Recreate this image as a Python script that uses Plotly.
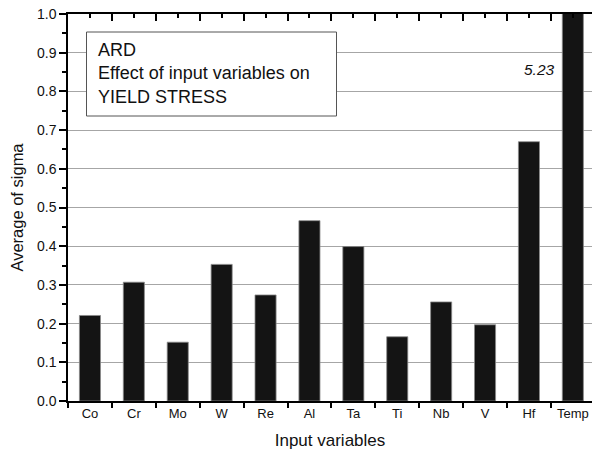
import plotly.graph_objects as go

categories = ["Co", "Cr", "Mo", "W", "Re", "Al", "Ta", "Ti", "Nb", "V", "Hf", "Temp"]
sigma = [0.221, 0.307, 0.152, 0.353, 0.274, 0.466, 0.399, 0.166, 0.256, 0.197, 0.670, 5.23]
temp_label = "5.23"

W, H = 592, 453
L, T, B = 68, 14, 52
pw, ph = W - L, H - T - B
cat_px = 43.9
xmax = -0.5 + pw / cat_px

font = "Liberation Sans, Arial, sans-serif"

fig = go.Figure()
fig.add_trace(go.Bar(
    x=categories, y=sigma, width=0.48,
    marker=dict(color="#141414", line=dict(color="#8a8a8a", width=0.8)),
    showlegend=False, hoverinfo="x+y",
))
# invisible trace so the top (mirror) axis is drawn
fig.add_trace(go.Scatter(x=[0], y=[0], xaxis="x2", yaxis="y", mode="markers",
                         marker=dict(opacity=0), showlegend=False, hoverinfo="skip"))

fig.update_layout(
    width=W, height=H,
    margin=dict(l=L, r=0, t=T, b=B),
    paper_bgcolor="white", plot_bgcolor="white",
    font=dict(family=font, color="#111"),
    xaxis=dict(
        type="category", range=[-0.5, xmax],
        showline=True, linecolor="black", linewidth=1.5,
        ticks="outside", tickson="boundaries", ticklen=5, tickwidth=1.5, tickcolor="black",
        tickfont=dict(size=13, color="#111"),
        showgrid=False, zeroline=False,
        title=dict(text="Input variables", font=dict(size=17), standoff=14),
    ),
    xaxis2=dict(
        type="linear", overlaying="x", side="top", anchor="y", range=[-0.5, xmax],
        showline=True, linecolor="black", linewidth=1.5,
        tickmode="linear", tick0=-0.5, dtick=1, ticks="inside", ticklen=7, tickwidth=1.5, tickcolor="black",
        minor=dict(tickmode="linear", tick0=0, dtick=1, ticks="inside", ticklen=4, tickwidth=1.5, tickcolor="black"),
        showticklabels=False, showgrid=False, zeroline=False,
    ),
    yaxis=dict(
        range=[0, 1], tickmode="linear", tick0=0, dtick=0.1, tickformat=".1f",
        showline=True, linecolor="black", linewidth=1.5,
        ticks="outside", ticklen=7, tickwidth=1.5, tickcolor="black",
        minor=dict(tickmode="linear", tick0=0, dtick=0.05, ticks="outside", ticklen=4, tickwidth=1.5, tickcolor="black", showgrid=False),
        showgrid=True, gridcolor="#a6a6a6", gridwidth=1.3,
        zeroline=False,
        tickfont=dict(size=14, color="#111"),
        title=dict(text="Average of sigma", font=dict(size=16.5), standoff=9),
    ),
)

def px_x(p):
    return (p - L) / pw

def px_y(p):
    return (H - B - p) / ph

fig.add_shape(type="rect", xref="paper", yref="paper",
              x0=px_x(86.5), x1=px_x(336.5), y0=px_y(116), y1=px_y(32),
              line=dict(color="#555", width=1), fillcolor="white", layer="above")

fig.add_annotation(xref="paper", yref="paper", x=px_x(96), y=px_y(73),
                   xanchor="left", yanchor="middle", align="left", showarrow=False,
                   text="ARD<br>Effect of input variables on<br>YIELD STRESS",
                   font=dict(size=18, color="#111", family=font))

fig.add_annotation(xref="paper", yref="paper", x=px_x(557), y=px_y(70),
                   xanchor="right", yanchor="middle", showarrow=False,
                   text=f"<i>{temp_label}</i>",
                   font=dict(size=15.5, color="#111", family=font))

fig.write_html("out.html")
